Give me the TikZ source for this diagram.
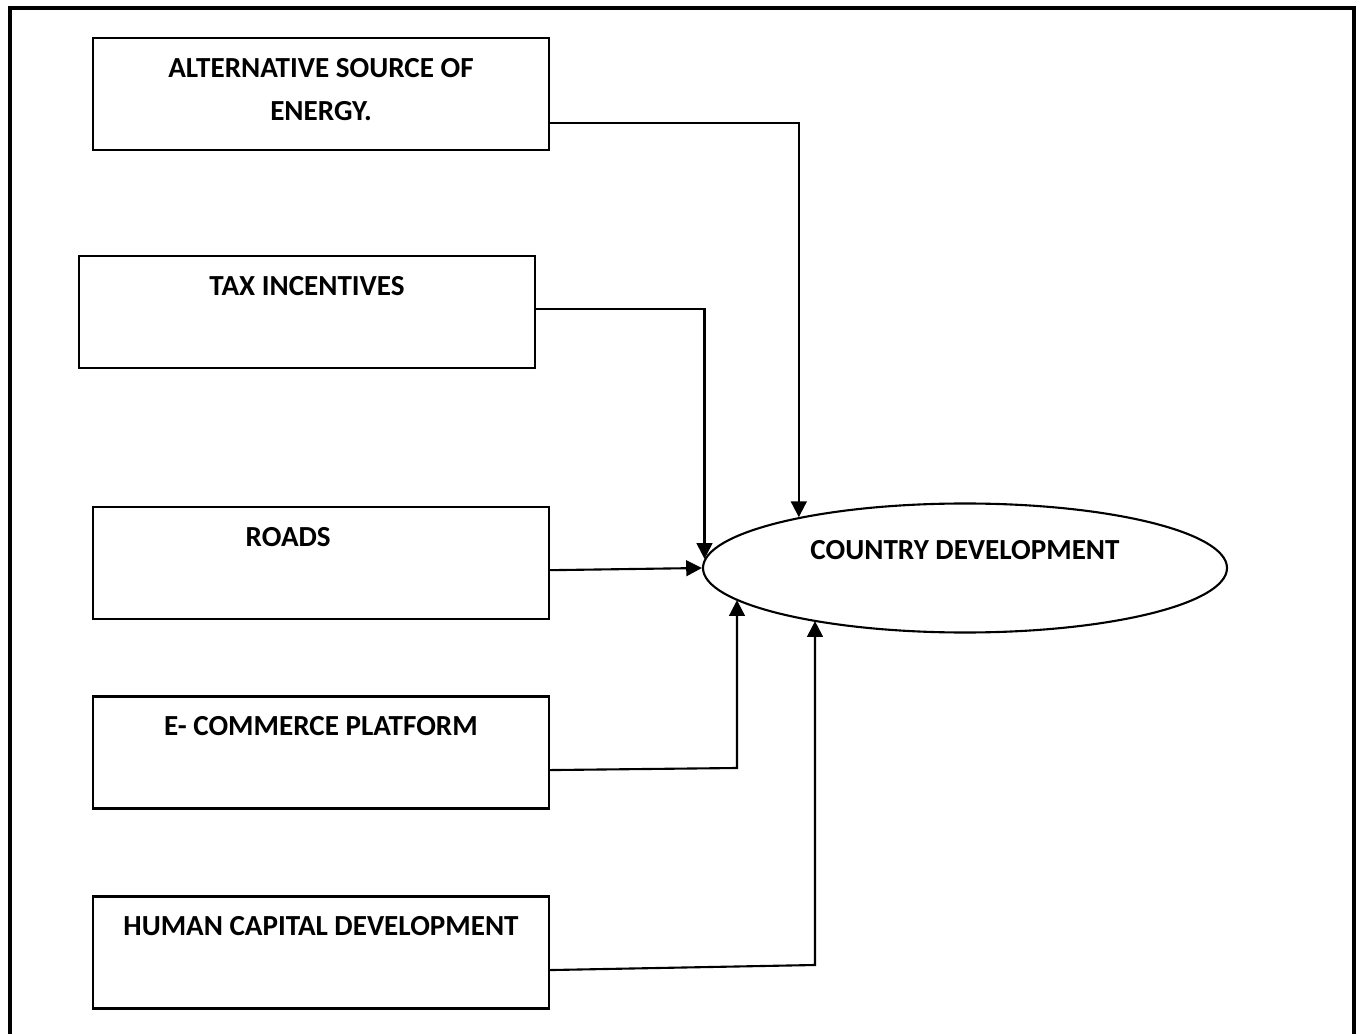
\documentclass[tikz,border=0pt]{standalone}
\usepackage{fontspec}
\setmainfont{Carlito}
\usetikzlibrary{shapes.geometric, arrows.meta, positioning, calc}
\newcommand{\toplines}[1]{\parbox[c][1.4cm][t]{5.7cm}{\centering\fontsize{10.35}{15.3}\selectfont\bfseries\vspace*{0.25cm}#1}}

\begin{document}
\begin{tikzpicture}[
  factor/.style={rectangle, draw, line width=0.75pt, inner sep=0pt, outer sep=0pt,
    minimum width=5.7cm, minimum height=1.4cm},
  goal/.style={ellipse, draw, line width=0.75pt, inner sep=0pt, minimum width=6.55cm,
    minimum height=1.6125cm, text height=0.22cm, text depth=0.42cm,
    font=\fontsize{10.35}{12}\selectfont\bfseries},
  arrow/.style={-{Triangle[length=5.6pt, width=5.6pt]}, line width=0.75pt},
  frame/.style={line width=1.4pt}
]
  \useasboundingbox (0,0) rectangle (17,12.925);
  % outer frame, open at the bottom
  \draw[frame] (0.12,0) -- (0.12,12.83) -- (16.92,12.83) -- (16.92,0);

  % factors
  \node[factor] (energy) at (4.0125, 11.75) {\toplines{ALTERNATIVE SOURCE OF\\ENERGY.}};
  \node[factor] (tax) at (3.8375, 9.025) {\toplines{TAX INCENTIVES}};
  \node[factor] (roads) at (4.0125, 5.8875) {\toplines{\hspace*{-0.82cm}ROADS}};
  \node[factor] (ecom) at (4.0125, 3.519) {\toplines{E- COMMERCE PLATFORM}};
  \node[factor] (human) at (4.0125, 1.019) {\toplines{HUMAN CAPITAL DEVELOPMENT}};

  % outcome
  \node[goal] (dev) at (12.0625, 5.825) {COUNTRY DEVELOPMENT};

  % connectors
  \draw[arrow] ([yshift=-0.3625cm]energy.east) -| (dev.163);
  \draw[arrow] ([yshift=0.0375cm]tax.east) -| (dev.178);
  \draw[arrow] ([yshift=-0.09cm]roads.east) -- (dev.west);
  \coordinate (ecombend) at (9.2125, 3.325);
  \draw[arrow] ([yshift=-0.22cm]ecom.east) -- (ecombend) -- (ecombend |- dev.188);
  \coordinate (humanbend) at (10.1875, 0.8625);
  \draw[arrow] ([yshift=-0.22cm]human.east) -- (humanbend) -- (humanbend |- dev.199);
\end{tikzpicture}
\end{document}
